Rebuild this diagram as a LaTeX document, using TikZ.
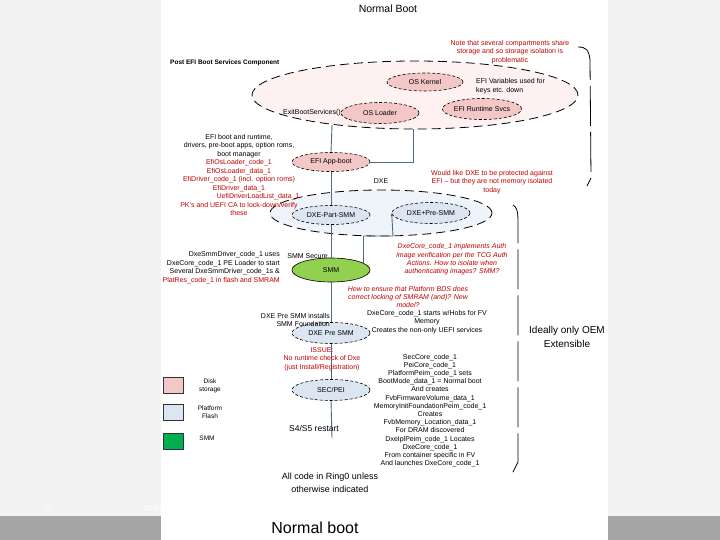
\documentclass[tikz,border=0pt]{standalone}
\usepackage{fontspec}
\setmainfont{Liberation Sans}
\usetikzlibrary{shapes.geometric,arrows.meta,calc}
\definecolor{pagebg}{HTML}{F2F2F2}
\definecolor{band}{HTML}{A6A6A6}
\definecolor{pinkfill}{HTML}{F4C7C7}
\definecolor{pinklight}{HTML}{FDF1F1}
\definecolor{bluefill}{HTML}{DCE6F2}
\definecolor{bluelight}{HTML}{EEF4FA}
\definecolor{smmgreen}{HTML}{92D050}
\definecolor{legendgreen}{HTML}{00B050}
\definecolor{noteRed}{HTML}{C00000}
\definecolor{connc}{HTML}{4F6B80}
\begin{document}
\begin{tikzpicture}[x=1pt,y=-1pt,
  lnode/.style={ellipse, draw=black, line width=0.6pt, dash pattern=on 3pt off 2pt, minimum width=78pt, minimum height=21pt, inner sep=0pt, font=\fontsize{7}{8}\selectfont},
  pinknode/.style={lnode, fill=pinkfill},
  bluenode/.style={lnode, fill=bluefill},
  bigell/.style={ellipse, draw=black, line width=0.8pt, dash pattern=on 9pt off 5pt, inner sep=0pt},
  conn/.style={draw=connc, line width=0.9pt},
  txt/.style={font=\fontsize{7}{8.45}\selectfont, align=center, inner sep=0pt},
  redtxt/.style={txt, text=noteRed},
  bracket/.style={draw=black, line width=0.8pt, dash pattern=on 40pt off 6pt},
  legbox/.style={draw=black!80, line width=0.6pt}
]
\useasboundingbox (0,0) rectangle (720,540);
\fill[pagebg] (0,0) rectangle (720,540);
\fill[band] (0,516) rectangle (720,540);
\node[inner sep=0pt, text=white, font=\fontsize{8}{9}\selectfont] (pnum) at (48,509) {75};
\node[inner sep=0pt, text=white, font=\fontsize{8}{9}\selectfont, anchor=west] (uefi) at (143,509) {UEFI};
\fill[white] (161,0) rectangle (608,540);

% titles
\node[inner sep=0pt, font=\fontsize{10.5}{12}\selectfont] (title) at (388,9) {Normal Boot};
\node[inner sep=0pt, font=\fontsize{16}{18}\selectfont] (foot) at (315,528) {Normal boot};
\node[inner sep=0pt, font=\bfseries\fontsize{6.5}{8}\selectfont, anchor=west] (post) at (170,63) {Post EFI Boot Services Component};

% big compartments
\node[bigell, fill=pinklight, minimum width=326pt, minimum height=68pt] (bigpink) at (415,95) {};
\node[bigell, fill=bluelight, minimum width=222pt, minimum height=46pt] (bigblue) at (381,213) {};

% nodes
\node[pinknode, minimum height=18pt, minimum width=76pt] (oskernel) at (425,82) {OS Kernel};
\node[pinknode] (osloader) at (380,113) {OS Loader};
\node[pinknode] (efirt) at (482,109) {EFI Runtime Svcs};
\node[pinknode, minimum height=19pt] (efiapp) at (331,162) {EFI App-boot};
\node[bluenode, minimum height=19pt] (dxepart) at (331,215) {DXE-Part-SMM};
\node[bluenode] (dxeplus) at (431,213) {DXE+Pre-SMM};
\node[lnode, solid, fill=smmgreen, minimum height=24pt] (smm) at (331,270) {SMM};
\node[bluenode] (dxepre) at (331,333) {DXE Pre SMM};
\node[bluenode] (secpei) at (331,390) {SEC/PEI};

% connectors
\coordinate (ptop) at (332,125);
\coordinate (pright) at (413,129);
\coordinate (kink) at (393,236);
\coordinate (rst) at (332,438);
\draw[conn] (ptop) -- (efiapp.north);
\draw[conn] (efiapp.east) -| (pright);
\draw[conn] (efiapp.south) -- (dxepart.north);
\draw[conn] (dxepart.south) -- (smm.north);
\draw[conn] (smm.south) -- (dxepre.north);
\draw[conn] (dxepre.south) -- (secpei.north);
\draw[conn] (secpei.south) -- (rst);
\draw[conn, -{Latex[length=3pt,width=3pt]}] (smm.12) |- (kink) -- (dxeplus.west);

% labels near nodes
\node[txt, anchor=east] (exitbs) at (341,113) {ExitBootServices()};
\node[txt, align=left, anchor=west] (efivar) at (476,86) {EFI Variables used for\\keys etc. down};
\node[txt] (dxelbl) at (381,181) {DXE};
\node[txt, anchor=east] (smmsec) at (328,256) {SMM Secure};
\node[txt, font=\fontsize{8.5}{10}\selectfont] (restart) at (314,428) {S4/S5 restart};

% notes
\node[redtxt] (note1) at (510,52) {Note that several compartments share\\storage and so storage isolation is\\problematic};
\node[redtxt] (note2) at (492,182) {Would like DXE to be protected against\\EFI -- but they are not memory isolated\\today};
\node[txt] (leftblk) at (239,175) {EFI boot and runtime,\\drivers, pre-boot apps, option roms,\\boot manager\\
  \textcolor{noteRed}{EfiOsLoader\_code\_1}\\\textcolor{noteRed}{EfiOsLoader\_data\_1}\\
  \textcolor{noteRed}{EfiDriver\_code\_1 (incl. option roms)}\\\textcolor{noteRed}{EfiDriver\_data\_1}\\
  \hspace*{38pt}\textcolor{noteRed}{UefiDriverLoadList\_data\_1}\\
  \textcolor{noteRed}{PK's and UEFI CA to lock-down/verify}\\\textcolor{noteRed}{these}};
\node[txt, align=right, anchor=east] (smmblk) at (280,267.5) {DxeSmmDriver\_code\_1 uses\\DxeCore\_code\_1 PE Loader to start\\Several DxeSmmDriver\_code\_1s \&\\\textcolor{noteRed}{PlatRes\_code\_1 in flash and SMRAM}};
\node[redtxt, font=\itshape\fontsize{7}{8.45}\selectfont] (auth) at (452,259.5) {DxeCore\_code\_1 implements Auth\\image verification per the TCG Auth\\Actions.  How to isolate when\\authenticating images?  SMM?};
\node[redtxt, font=\itshape\fontsize{7}{8.2}\selectfont] (ensure) at (408,297) {How to ensure that Platform BDS does\\correct locking of SMRAM (and)?  New\\model?};
\node[txt] (dxestart) at (427,322) {DxeCore\_code\_1 starts w/Hobs for FV\\Memory\\Creates the non-only UEFI services};
\node[txt, align=right, anchor=east] (presmm) at (330,320) {DXE Pre SMM installs\\SMM Foundation};
\node[redtxt] (issue) at (322,359) {ISSUE:\\No runtime check of Dxe\\(just Install/Registration)};
\node[txt, font=\fontsize{7}{8.2}\selectfont] (peilist) at (430,410.5) {SecCore\_code\_1\\PeiCore\_code\_1\\PlatformPeim\_code\_1 sets\\BootMode\_data\_1 = Normal boot\\And creates\\FvbFirmwareVolume\_data\_1\\MemoryInitFoundationPeim\_code\_1\\Creates\\FvbMemory\_Location\_data\_1\\For DRAM discovered\\DxeIplPeim\_code\_1 Locates\\DxeCore\_code\_1\\From container specific in FV\\And launches DxeCore\_code\_1};
\node[txt, font=\fontsize{9}{13}\selectfont] (ring0) at (330,483) {All code in Ring0 unless\\otherwise indicated};
\node[txt, font=\fontsize{10}{14.5}\selectfont] (oem) at (567,337) {Ideally only OEM\\Extensible};

% brackets
\draw[bracket] (578,47) .. controls (586,47) and (589,50) .. (590,60) -- (591,178) -- (587,186);
\draw[bracket] (513,205) .. controls (517,207) and (518,212) .. (518,222) -- (518,462) -- (512,474);

% legend
\filldraw[legbox, fill=pinkfill] (163,377) rectangle (183,393);
\filldraw[legbox, fill=bluefill] (163,404) rectangle (183,420);
\filldraw[legbox, fill=legendgreen] (163,433) rectangle (183,449);
\node[txt, font=\fontsize{6.5}{7.5}\selectfont] (legdisk) at (210,386) {Disk\\storage};
\node[txt, font=\fontsize{6.5}{7.5}\selectfont] (legflash) at (210,412) {Platform\\Flash};
\node[txt, font=\fontsize{6.5}{7.5}\selectfont] (legsmm) at (207,438) {SMM};
\end{tikzpicture}
\end{document}
